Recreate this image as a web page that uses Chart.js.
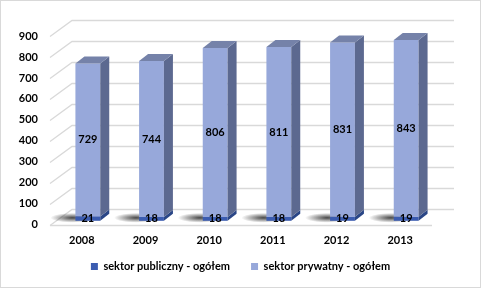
<!DOCTYPE html>
<html><head><meta charset="utf-8">
<script src="https://cdn.jsdelivr.net/npm/chart.js@4"></script>
<style>html,body{margin:0;padding:0;background:#fff}canvas{display:block}</style>
</head><body>
<canvas id="c" width="481" height="289"></canvas>
<script>
const years = ['2008', '2009', '2010', '2011', '2012', '2013'];
const publicSector = [21, 18, 18, 18, 19, 19];
const privateSector = [729, 744, 806, 811, 831, 843];
const seriesNames = ['sektor publiczny - ogółem', 'sektor prywatny - ogółem'];

const FONT = 'Lato, "Liberation Sans", sans-serif';
const WALL_DX = 22, WALL_DY = -16;
const BAR_DX = 9, BAR_DY = -7;
const SHIFT_X = 6, SHIFT_Y = -4;

const faceColors = [
  {front: '#3b5cb0', side: '#2a4686', top: '#4a66ad'},
  {front: '#97a8da', side: '#5c6990', top: '#7582a9'}
];

const threeD = {
  id: 'threeD',
  beforeDraw(chart) {
    const ctx = chart.ctx;
    ctx.save();
    ctx.strokeStyle = '#d9d9d9';
    ctx.lineWidth = 1;
    ctx.strokeRect(0.5, 0.5, chart.width - 1, chart.height - 2);
    ctx.restore();
  },
  beforeDatasetsDraw(chart) {
    const ctx = chart.ctx, a = chart.chartArea, ys = chart.scales.y;
    ctx.save();
    ctx.strokeStyle = '#d9d9d9';
    ctx.lineWidth = 1.3;
    ys.ticks.forEach(t => {
      const y = Math.round(ys.getPixelForValue(t.value)) + 0.5;
      ctx.beginPath();
      ctx.moveTo(a.left, y);
      ctx.lineTo(a.left + WALL_DX, y + WALL_DY);
      ctx.lineTo(a.right + WALL_DX, y + WALL_DY);
      ctx.stroke();
    });
    const yb = Math.round(a.bottom) + 0.5;
    ctx.beginPath();
    ctx.moveTo(a.left, yb);
    ctx.lineTo(a.right, yb);
    ctx.stroke();
    ctx.restore();
    // shadows on floor
    ctx.save();
    const meta = chart.getDatasetMeta(0);
    meta.data.forEach(bar => {
      const x0 = bar.x - bar.width / 2 + SHIFT_X;
      const yb2 = a.bottom + SHIFT_Y;
      const cx = x0 - 3, cy = yb2 - 3;
      const g = ctx.createRadialGradient(cx, cy, 1, cx, cy, 22);
      g.addColorStop(0, 'rgba(50,50,50,0.85)');
      g.addColorStop(1, 'rgba(50,50,50,0)');
      ctx.save();
      ctx.translate(0, cy);
      ctx.scale(1, 0.22);
      ctx.translate(0, -cy);
      ctx.fillStyle = g;
      ctx.beginPath();
      ctx.arc(cx, cy, 22, 0, Math.PI * 2);
      ctx.fill();
      ctx.restore();
    });
    ctx.restore();
    ctx.save();
    ctx.translate(SHIFT_X, SHIFT_Y);
  },
  afterDatasetsDraw(chart) {
    const ctx = chart.ctx;
    const n = chart.data.datasets.length;
    for (let d = 0; d < n; d++) {
      const meta = chart.getDatasetMeta(d);
      meta.data.forEach(bar => {
        const xl = bar.x - bar.width / 2, xr = bar.x + bar.width / 2;
        const top = Math.min(bar.y, bar.base), bot = Math.max(bar.y, bar.base);
        ctx.fillStyle = faceColors[d].side;
        ctx.beginPath();
        ctx.moveTo(xr, top);
        ctx.lineTo(xr + BAR_DX, top + BAR_DY);
        ctx.lineTo(xr + BAR_DX, bot + BAR_DY);
        ctx.lineTo(xr, bot);
        ctx.closePath();
        ctx.fill();
        if (d === n - 1) {
          ctx.fillStyle = faceColors[d].top;
          ctx.beginPath();
          ctx.moveTo(xl, top);
          ctx.lineTo(xl + BAR_DX, top + BAR_DY);
          ctx.lineTo(xr + BAR_DX, top + BAR_DY);
          ctx.lineTo(xr, top);
          ctx.closePath();
          ctx.fill();
        }
      });
    }
    // value labels
    ctx.fillStyle = '#000';
    ctx.font = 'bold 11px ' + FONT;
    ctx.textAlign = 'center';
    ctx.textBaseline = 'middle';
    for (let d = 0; d < n; d++) {
      const meta = chart.getDatasetMeta(d);
      const vals = chart.data.datasets[d].data;
      meta.data.forEach((bar, i) => {
        const cy = (bar.y + bar.base) / 2;
        ctx.fillText(String(vals[i]), bar.x, cy);
      });
    }
    ctx.restore();
  }
};

new Chart(document.getElementById('c'), {
  type: 'bar',
  data: {
    labels: years,
    datasets: [
      {label: seriesNames[0], data: publicSector, backgroundColor: faceColors[0].front, clip: false},
      {label: seriesNames[1], data: privateSector, backgroundColor: faceColors[1].front, clip: false}
    ]
  },
  options: {
    responsive: false,
    animation: false,
    devicePixelRatio: 1,
    layout: {padding: {top: 36, right: 0, left: 0, bottom: 7}},
    datasets: {bar: {barPercentage: 0.39, categoryPercentage: 1}},
    scales: {
      x: {
        stacked: true,
        grid: {display: false, drawTicks: false},
        border: {display: false},
        ticks: {padding: 9, color: '#000', font: {family: FONT, size: 11, weight: 'bold'}}
      },
      y: {
        stacked: true,
        min: 0, max: 900,
        grid: {display: false, drawTicks: false},
        border: {display: false},
        ticks: {stepSize: 100, padding: 12, color: '#000', font: {family: FONT, size: 11, weight: 'bold'}},
        afterFit(s) { s.width = 50; }
      },
      yRight: {
        position: 'right',
        display: true,
        grid: {display: false, drawTicks: false},
        border: {display: false},
        ticks: {display: false},
        afterFit(s) { s.width = 49; }
      }
    },
    plugins: {
      legend: {
        position: 'bottom',
        labels: {
          boxWidth: 7, boxHeight: 7, padding: 5, color: '#000',
          font: {family: FONT, size: 11, weight: 'bold'},
          generateLabels(chart) {
            const items = Chart.defaults.plugins.legend.labels.generateLabels(chart);
            items.forEach((it, i) => { if (i < items.length - 1) it.text = it.text + '      '; });
            return items;
          }
        }
      },
      tooltip: {enabled: false}
    }
  },
  plugins: [threeD]
});
</script>
</body></html>
